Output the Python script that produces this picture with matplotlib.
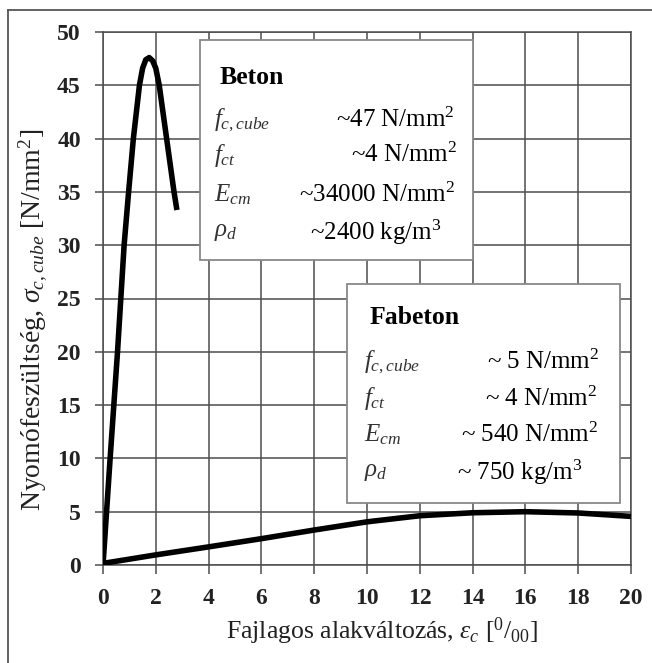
import matplotlib
matplotlib.use('Agg')
from matplotlib import pyplot as plt
from matplotlib.patches import Rectangle

plt.rcParams['font.family'] = ['Liberation Serif', 'DejaVu Serif']
plt.rcParams['mathtext.fontset'] = 'custom'
plt.rcParams['mathtext.rm'] = 'Liberation Serif'
plt.rcParams['mathtext.it'] = 'Liberation Serif:italic'
plt.rcParams['mathtext.bf'] = 'Liberation Serif:bold'

# Beton curve (strain in per mille, stress in N/mm2)
beton_eps = [0, 0.27, 0.55, 0.8, 0.97, 1.15, 1.38, 1.5, 1.62, 1.75, 1.88, 2.0, 2.13, 2.41, 2.69, 2.8]
beton_sig = [0, 10, 20, 30, 35, 40, 45, 46.6, 47.4, 47.6, 47.3, 46.6, 45, 40, 35, 33.3]

# Fabeton curve
fabeton_eps = [0, 2, 4, 6, 8, 10, 12, 14, 16, 18, 20]
fabeton_sig = [0.15, 0.95, 1.7, 2.47, 3.28, 4.05, 4.62, 4.9, 5.0, 4.88, 4.56]

x_ticks = list(range(0, 21, 2))
y_ticks = list(range(0, 51, 5))

beton_title = 'Beton'
beton_names = [r'$f_{c,cube}$', r'$f_{ct}$', r'$E_{cm}$', r'$\rho_d$']
beton_values = [r'~47 N/mm$^2$', r'~4 N/mm$^2$', r'~34000 N/mm$^2$', r'~2400 kg/m$^3$']

fabeton_title = 'Fabeton'
fabeton_names = [r'$f_{c,cube}$', r'$f_{ct}$', r'$E_{cm}$', r'$\rho_d$']
fabeton_values = [r'~ 5 N/mm$^2$', r'~ 4 N/mm$^2$', r'~ 540 N/mm$^2$', r'~ 750 kg/m$^3$']

W, H = 652, 663
fig = plt.figure(figsize=(W / 100, H / 100), dpi=100)
ax = fig.add_axes([103 / W, 1 - 565 / H, 528 / W, 533 / H])

gc = '#4d4d4d'
ax.plot(beton_eps, beton_sig, color='black', lw=4, solid_capstyle='butt', zorder=3)
ax.plot(fabeton_eps, fabeton_sig, color='black', lw=4, solid_capstyle='butt', zorder=3)

ax.set_xlim(0, 20)
ax.set_ylim(0, 50)
ax.set_xticks(x_ticks)
ax.set_yticks(y_ticks)
ax.grid(True, color=gc, lw=1.1)
for s in ax.spines.values():
    s.set_color(gc)
    s.set_linewidth(1.1)
ax.tick_params(axis='x', length=6.5, width=1.1, color=gc, pad=10, labelsize=17)
ax.tick_params(axis='y', length=6, width=1.1, color=gc, pad=10, labelsize=17)
for lab in ax.get_xticklabels() + ax.get_yticklabels():
    lab.set_fontweight('bold')
    lab.set_color('#222222')


def px(x, y):
    # pixel position in figure -> figure fraction
    return x / W, 1 - y / H


fig.text(*px(382, 631), r'Fajlagos alakváltozás, $\varepsilon_c$ [$^0/_{00}$]',
         fontsize=18.5, ha='center', va='center', color='#222222')
fig.text(*px(33, 320), r'Nyomófeszültség, $\sigma_{c,cube}$ [N/mm$^2$]',
         fontsize=20, rotation=90, ha='center', va='center', color='#222222')


def info_box(x0, y0, x1, y1, title, names, values, title_pos, name_x, val_right, rows_y):
    fig.patches.append(Rectangle(px(x0, y1), (x1 - x0) / W, (y1 - y0) / H,
                                 transform=fig.transFigure, facecolor='white',
                                 edgecolor='#888888', lw=1.3, zorder=5))
    fig.text(*px(*title_pos), title, fontsize=18.5, fontweight='bold', va='center', zorder=6)
    for i, (n, v) in enumerate(zip(names, values)):
        fig.text(*px(name_x, rows_y[i]), n, fontsize=18, va='center', ha='left', color='#333333', zorder=6)
        fig.text(*px(val_right[i], rows_y[i]), v, fontsize=18, va='center', ha='right', zorder=6)


info_box(200, 40, 473, 260, beton_title, beton_names, beton_values,
         (220, 78), 214, [455, 457, 455, 442], [120, 155, 195, 232])
info_box(347, 284, 620, 503, fabeton_title, fabeton_names, fabeton_values,
         (370, 317), 364, [599, 597, 598, 582], [362, 399, 435, 472])

# outer frame of the image
fig.add_artist(plt.Line2D([8 / W, 8 / W], [0, 1 - 10 / H], transform=fig.transFigure, color='#555555', lw=1.3))
fig.add_artist(plt.Line2D([8 / W, 1], [1 - 10 / H, 1 - 10 / H], transform=fig.transFigure, color='#555555', lw=1.3))

fig.savefig('out.png', dpi=100)
